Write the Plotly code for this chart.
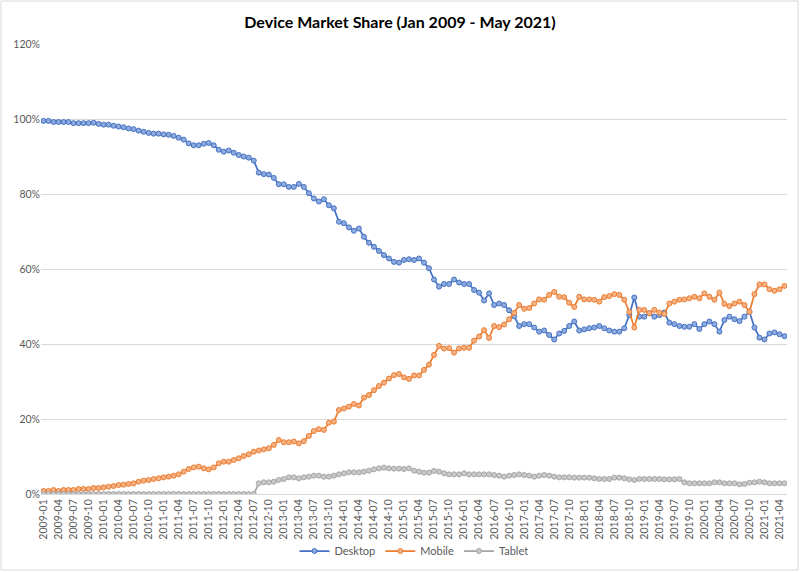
import plotly.graph_objects as go

# Monthly categories Jan 2009 - May 2021
months = [f"{y}-{m:02d}" for y in range(2009, 2022) for m in range(1, 13)]
months = months[:months.index("2021-05") + 1]

desktop = [
    99.5, 99.5, 99.2, 99.2, 99.2, 99.2, 98.9, 98.9, 98.9, 98.9,
    99.0, 98.7, 98.5, 98.5, 98.2, 98.0, 97.8, 97.5, 97.3, 96.9,
    96.6, 96.3, 96.1, 96.1, 95.9, 95.8, 95.5, 95.0, 94.5, 93.5,
    93.0, 93.0, 93.4, 93.6, 93.0, 91.8, 91.3, 91.6, 91.0, 90.4,
    90.0, 89.7, 88.9, 85.7, 85.3, 85.2, 84.3, 82.6, 82.6, 81.9,
    81.9, 82.7, 81.9, 80.2, 78.8, 78.0, 78.6, 77.0, 76.2, 72.6,
    72.2, 71.1, 70.2, 70.8, 68.6, 67.0, 65.9, 64.8, 63.7, 62.8,
    61.9, 61.7, 62.4, 62.6, 62.4, 62.8, 61.7, 60.2, 57.2, 55.3,
    56.0, 56.0, 57.2, 56.4, 56.0, 56.0, 54.4, 53.7, 51.6, 53.5,
    50.4, 50.8, 50.4, 49.0, 47.4, 44.8, 45.3, 45.3, 44.4, 43.3,
    43.6, 42.4, 41.2, 42.8, 43.5, 44.8, 46.0, 43.6, 43.9, 44.2,
    44.4, 44.8, 44.2, 43.6, 43.3, 43.3, 44.2, 47.7, 52.4, 47.3,
    47.3, 48.2, 47.3, 47.7, 48.4, 45.7, 45.3, 44.8, 44.6, 44.6,
    45.3, 44.0, 45.3, 46.0, 45.3, 43.3, 46.4, 47.3, 46.6, 46.1,
    47.3, 48.6, 44.4, 41.7, 41.2, 42.8, 43.1, 42.6, 42.1,
]

mobile = [
    0.8, 0.8, 1.07, 0.8, 1.07, 1.07, 1.07, 1.33, 1.33, 1.33,
    1.6, 1.6, 1.78, 1.96, 2.13, 2.4, 2.49, 2.67, 2.84, 3.29,
    3.56, 3.73, 4.0, 4.18, 4.44, 4.62, 4.89, 5.24, 5.96, 6.67,
    7.1, 7.29, 6.84, 6.58, 7.1, 8.18, 8.62, 8.62, 9.07, 9.51,
    10.13, 10.6, 11.3, 11.6, 11.9, 12.2, 13.1, 14.4, 13.8, 13.8,
    14.0, 13.5, 14.1, 15.5, 16.8, 17.3, 17.1, 19.0, 19.3, 22.4,
    22.8, 23.3, 24.0, 23.6, 25.7, 26.4, 27.7, 28.8, 29.7, 30.8,
    31.7, 32.0, 31.1, 30.7, 31.6, 31.6, 33.1, 34.5, 37.1, 39.5,
    38.8, 38.9, 37.7, 38.8, 39.0, 39.0, 40.9, 42.0, 43.7, 41.6,
    44.8, 44.5, 45.2, 46.6, 48.3, 50.4, 49.4, 49.6, 50.8, 51.9,
    51.8, 53.1, 53.9, 52.6, 52.5, 51.0, 49.9, 52.6, 51.9, 51.9,
    51.8, 51.3, 52.5, 52.8, 53.3, 53.1, 51.8, 48.6, 44.4, 49.1,
    49.1, 48.2, 49.1, 48.4, 48.0, 50.8, 51.3, 51.8, 51.9, 52.2,
    52.6, 52.2, 53.5, 52.6, 51.8, 53.7, 50.7, 50.1, 50.8, 51.3,
    50.4, 48.6, 53.3, 55.9, 55.9, 54.6, 54.2, 54.6, 55.5,
]

tablet = [0.0] * 43 + [
    2.84, 3.11, 3.11, 3.29, 3.73, 4.0, 4.44, 4.44, 4.18, 4.44,
    4.62, 4.89, 4.89, 4.62, 4.62, 4.89, 5.24, 5.51, 5.78, 5.78,
    5.78, 5.96, 6.22, 6.58, 6.84, 7.02, 6.84, 6.76, 6.76,
    6.67, 6.84, 6.22, 5.96, 5.69, 5.69, 6.13, 5.96, 5.51, 5.24,
    5.24, 5.24, 5.51, 5.24, 5.24, 5.24, 5.24, 5.24, 5.07, 4.89,
    4.62, 4.89, 5.07, 5.24, 5.07, 4.89, 4.62, 4.89, 5.07, 4.89,
    4.62, 4.44, 4.44, 4.44, 4.36, 4.36, 4.36, 4.36, 4.18, 4.0,
    4.0, 4.0, 4.36, 4.36, 4.18, 3.91, 3.73, 4.0, 4.0, 4.0,
    4.0, 4.0, 3.91, 3.91, 3.91, 4.0, 3.11, 2.84, 2.84, 2.84,
    2.84, 2.84, 3.11, 3.11, 2.84, 2.84, 2.84, 2.58, 2.67, 3.02,
    3.11, 3.29, 3.11, 2.84, 2.84, 2.84, 2.84,
]

series = [
    ("Desktop", desktop, "#4472C4", "#8FAADC"),
    ("Mobile", mobile, "#ED7D31", "#F4B183"),
    ("Tablet", tablet, "#A5A5A5", "#C9C9C9"),
]

fig = go.Figure()
for name, vals, col, fill in series:
    fig.add_trace(go.Scatter(
        x=months, y=vals, name=name, mode="lines+markers",
        line=dict(color=col, width=1.75),
        marker=dict(symbol="circle", size=5, color=fill,
                    line=dict(color=col, width=1)),
    ))

W, H = 800, 572
ml, mr, mt, mb = 41, 13, 44, 78
pw = W - ml - mr
ph = H - mt - mb

fig.update_layout(
    width=W, height=H,
    margin=dict(l=ml, r=mr, t=mt, b=mb, autoexpand=False),
    paper_bgcolor="white", plot_bgcolor="white",
    font=dict(family="Lato, Carlito, Liberation Sans, sans-serif", color="#595959", size=10.5),
    title=dict(text="<b>Device Market Share (Jan 2009 - May 2021)</b>",
               x=0.5, xanchor="center", y=1 - 22 / H, yanchor="middle",
               font=dict(size=16, color="#000000")),
    showlegend=True,
    legend=dict(orientation="h", x=0.5, xanchor="center",
                yref="container", y=(H - 551) / H, yanchor="middle",
                bgcolor="rgba(0,0,0,0)",
                font=dict(size=11, color="#595959"),
                itemwidth=30, tracegroupgap=0),
    xaxis=dict(type="category", categoryorder="array", categoryarray=months,
               range=[-0.5, len(months) - 0.5], automargin=False,
               tickmode="array", tickvals=months[::3], ticktext=months[::3],
               tickangle=-90, showgrid=False, zeroline=False,
               showline=True, linecolor="#D9D9D9", linewidth=1,
               ticks="", tickfont=dict(size=10.5, color="#595959")),
    yaxis=dict(range=[0, 120], dtick=20, ticksuffix="%", automargin=False,
               showgrid=True, gridcolor="#D9D9D9", gridwidth=1,
               zeroline=False, showline=False, ticks="",
               tickfont=dict(size=10.5, color="#595959")),
    shapes=[dict(type="rect", xref="paper", yref="paper",
                 x0=-(ml - 1) / pw, x1=1 + (mr - 2) / pw,
                 y0=-(mb - 2) / ph, y1=1 + (mt - 1) / ph,
                 line=dict(color="#D9D9D9", width=1), fillcolor="rgba(0,0,0,0)",
                 layer="below")],
)

fig.write_html("out.html", config={"displayModeBar": False},
               post_script="document.body.style.margin='0';document.body.style.padding='0';")
